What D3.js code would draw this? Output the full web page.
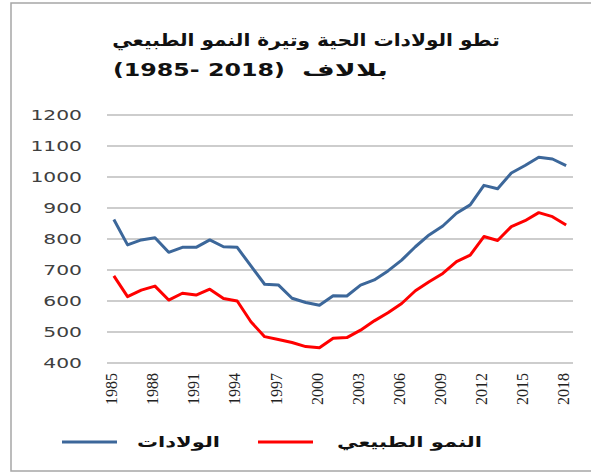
<!DOCTYPE html>
<html>
<head>
<meta charset="utf-8">
<script src="https://cdn.jsdelivr.net/npm/d3@7"></script>
<style>
  body { margin: 0; background: #fff; }
</style>
</head>
<body>
<div id="chart"></div>
<script>
var svgWidth = 591;
var svgHeight = 473;

// years on the category axis
var years = d3.range(1985, 2019);
var tickYears = [1985, 1988, 1991, 1994, 1997, 2000, 2003, 2006, 2009, 2012, 2015, 2018];
var yTicks = [400, 500, 600, 700, 800, 900, 1000, 1100, 1200];

// live births (thousands)
var births = [863, 781, 797, 804, 757, 773, 773, 797, 775, 773,
              713, 654, 652, 609, 595, 586, 617, 616, 651, 668,
              697, 732, 775, 813, 842, 883, 910, 973, 962, 1013,
              1037, 1064, 1058, 1037];

// natural increase (thousands)
var growth = [681, 614, 635, 648, 603, 625, 619, 638, 608, 600,
              533, 485, 476, 466, 453, 449, 480, 482, 506, 536,
              562, 592, 633, 662, 689, 727, 748, 808, 795, 840,
              859, 885, 872, 845];

var titleLine1 = "تطو الولادات  الحية وتيرة النمو الطبيعي";
var titleYears = "(1985- 2018)";
var titleUnit = "بلالاف";
var seriesNames = ["الولادات", "النمو  الطبيعي"];
var seriesColors = ["#3c679a", "#ff0000"];

var plot = { left: 107, right: 573, top: 115, bottom: 363 };
var sx = 1.45; // the picture is stretched sideways

var svg = d3.select("#chart")
  .append("svg")
  .attr("width", svgWidth)
  .attr("height", svgHeight);

// outer frame
svg.append("rect")
  .attr("x", 11).attr("y", 3)
  .attr("width", 600).attr("height", 468)
  .attr("fill", "#fff")
  .attr("stroke", "#a6a6a6")
  .attr("stroke-width", 1.5);

var xScale = d3.scalePoint()
  .domain(years)
  .range([plot.left, plot.right])
  .padding(0.5);

var yScale = d3.scaleLinear()
  .domain([400, 1200])
  .range([plot.bottom, plot.top]);

// fit a text element to a target width by stretching it
function stretchTo(sel, x, y, targetW, anchor) {
  var w = sel.node().getComputedTextLength();
  var k = targetW / w;
  sel.attr("text-anchor", anchor)
    .attr("transform", `translate(${x}, ${y}) scale(${k}, 1)`);
}

function titleText(str, size) {
  return svg.append("text")
    .attr("font-family", "DejaVu Sans")
    .attr("font-weight", "bold")
    .attr("font-size", size)
    .attr("fill", "#111")
    .text(str);
}

// title
stretchTo(titleText(titleLine1, 17), 306, 46, 388, "middle");
var yearsText = titleText(titleYears, 17)
  .style("direction", "ltr")
  .style("unicode-bidi", "bidi-override");
stretchTo(yearsText, 113, 76, 172, "start");
stretchTo(titleText(titleUnit, 17), 388, 76, 86, "end");

// gridlines
svg.append("g")
  .selectAll("line")
  .data(yTicks)
  .enter()
  .append("line")
  .attr("x1", plot.left)
  .attr("x2", plot.right)
  .attr("y1", d => yScale(d))
  .attr("y2", d => yScale(d))
  .attr("stroke", "#bdbdbd")
  .attr("stroke-width", 1.5);

// y axis labels
svg.append("g")
  .selectAll("text")
  .data(yTicks)
  .enter()
  .append("text")
  .attr("text-anchor", "end")
  .attr("font-family", "DejaVu Sans")
  .attr("font-size", 14)
  .attr("fill", "#404040")
  .attr("dy", "0.36em")
  .attr("transform", d => `translate(82, ${yScale(d)}) scale(${sx}, 1)`)
  .text(d => d);

// x axis labels (rotated)
svg.append("g")
  .selectAll("text")
  .data(tickYears)
  .enter()
  .append("text")
  .attr("text-anchor", "end")
  .attr("font-family", "Liberation Serif")
  .attr("font-size", 16)
  .attr("fill", "#222")
  .attr("dy", "0.33em")
  .attr("transform", d => `translate(${xScale(d) - 2}, 373) rotate(-90)`)
  .text(d => d);

// lines
var line = d3.line()
  .x((d, i) => xScale(years[i]))
  .y(d => yScale(d));

[births, growth].forEach(function(series, i) {
  svg.append("path")
    .datum(series)
    .attr("fill", "none")
    .attr("stroke", seriesColors[i])
    .attr("stroke-width", 3)
    .attr("stroke-linejoin", "round")
    .attr("d", line);
});

// legend
var legend = [
  { x1: 62, x2: 117, tx: 220, tw: 83 },
  { x1: 258, x2: 313, tx: 482, tw: 145 }
];
legend.forEach(function(l, i) {
  svg.append("line")
    .attr("x1", l.x1).attr("x2", l.x2)
    .attr("y1", 442).attr("y2", 442)
    .attr("stroke", seriesColors[i])
    .attr("stroke-width", 3);
  var lt = svg.append("text")
    .attr("font-family", "DejaVu Sans")
    .attr("font-weight", "bold")
    .attr("font-size", 15)
    .attr("fill", "#111")
    .text(seriesNames[i]);
  stretchTo(lt, l.tx, 447, l.tw, "end");
});
</script>
</body>
</html>
